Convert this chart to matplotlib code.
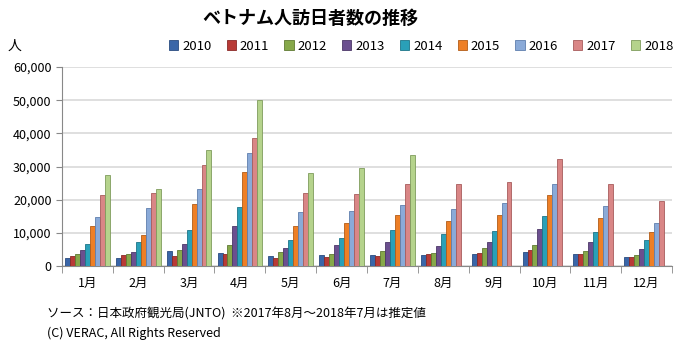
import matplotlib.pyplot as plt
import numpy as np

plt.rcParams['font.family'] = ['Noto Sans CJK JP', 'DejaVu Sans']

months = ['1月', '2月', '3月', '4月', '5月', '6月', '7月', '8月', '9月', '10月', '11月', '12月']
years = ['2010', '2011', '2012', '2013', '2014', '2015', '2016', '2017', '2018']

v2010 = [2500, 2500, 4400, 3900, 3000, 3400, 3200, 3400, 3700, 4100, 3700, 2700]
v2011 = [3000, 3300, 3100, 3700, 2500, 2700, 2900, 3500, 4000, 4700, 3700, 2700]
v2012 = [3500, 3500, 4900, 6400, 4100, 3500, 4500, 4000, 5500, 6300, 4500, 3400]
v2013 = [4900, 4200, 6700, 12100, 5400, 6300, 7200, 5900, 7300, 11200, 7100, 5000]
v2014 = [6500, 7300, 11000, 17800, 7700, 8400, 10800, 9500, 10500, 15100, 10200, 7800]
v2015 = [12200, 9400, 18600, 28400, 12200, 12900, 15300, 13600, 15500, 21300, 14500, 10200]
v2016 = [14700, 17500, 23200, 34000, 16200, 16600, 18500, 17100, 19100, 24600, 18000, 12900]
v2017 = [21500, 21900, 30500, 38700, 22000, 21800, 24600, 24600, 25300, 32400, 24800, 19600]
v2018 = [27500, 23300, 35000, 50100, 28100, 29400, 33400, None, None, None, None, None]

series = [v2010, v2011, v2012, v2013, v2014, v2015, v2016, v2017, v2018]
colors = ['#3a66a8', '#b83a36', '#86a84a', '#6b4f8f', '#2aa0b8',
          '#ee7f26', '#8aaad8', '#d98686', '#b5d38c']
edges = ['#2a4c80', '#8a2a28', '#5f7a33', '#4c3868', '#1d7588',
         '#b35c18', '#5f7fae', '#a85c5c', '#7f9c5c']

fig = plt.figure(figsize=(6.77, 3.47), dpi=100)
ax = fig.add_axes([62 / 677, 1 - 266 / 347, 610 / 677, 199 / 347])

x = np.arange(len(months))
n = len(series)
w = 0.88 / n
for i, (vals, c, ec) in enumerate(zip(series, colors, edges)):
    xs = [xi for xi, v in zip(x, vals) if v is not None]
    ys = [v for v in vals if v is not None]
    pos = np.array(xs) - 0.44 + w * (i + 0.5)
    ax.bar(pos, ys, width=w, color=c, edgecolor=ec, linewidth=0.6, label=years[i], zorder=3)

ax.set_xlim(-0.5, 11.5)
ax.set_ylim(0, 60000)
ax.set_yticks(np.arange(0, 60001, 10000))
ax.set_yticklabels([f'{v:,}' for v in range(0, 60001, 10000)], fontsize=9)
ax.yaxis.grid(True, color='#d9d9d9', linewidth=1.2, zorder=0)
ax.set_xticks(x)
ax.set_xticklabels(months, fontsize=9)
ax.tick_params(axis='x', length=0, pad=8)
ax.set_xticks(np.arange(-0.5, 12, 1), minor=True)
ax.tick_params(axis='x', which='minor', length=5, color='#888888')
ax.tick_params(axis='y', length=4, color='#888888')
for s in ['top', 'right']:
    ax.spines[s].set_visible(False)
ax.spines['left'].set_color('#888888')
ax.spines['bottom'].set_color('#888888')

fig.text(310 / 677, 1 - 18 / 347, 'ベトナム人訪日者数の推移', ha='center', va='center',
         fontsize=13, fontweight='bold')
fig.text(8 / 677, 1 - 46 / 347, '人', ha='left', va='center', fontsize=10)
fig.legend(loc='center right', bbox_to_anchor=(676 / 677, 1 - 46 / 347), ncol=9, frameon=False,
           fontsize=9.5, handlelength=0.7, handleheight=0.7, handletextpad=0.3, columnspacing=1.15,
           borderaxespad=0, borderpad=0.2)
fig.text(47 / 677, 1 - 314 / 347, 'ソース：日本政府観光局(JNTO)  ※2017年8月～2018年7月は推定値',
         ha='left', va='center', fontsize=9)
fig.text(47 / 677, 1 - 333 / 347, '(C) VERAC, All Rights Reserved', ha='left', va='center', fontsize=9)

fig.savefig('out.png', dpi=100)
